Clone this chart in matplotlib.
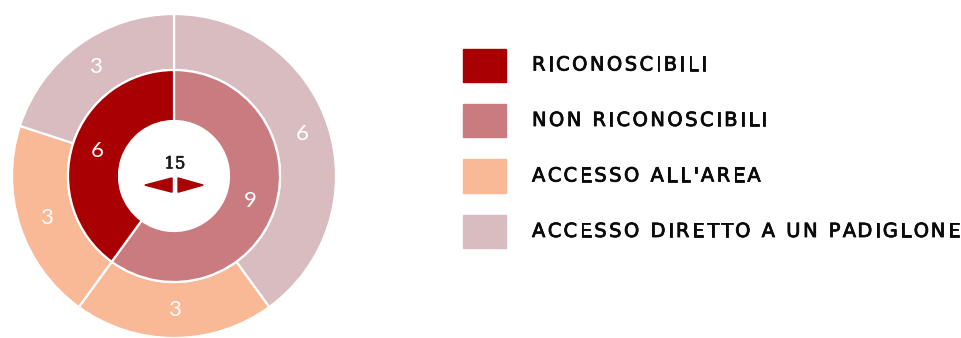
import matplotlib
matplotlib.use("Agg")
import matplotlib.pyplot as plt
import matplotlib.patheffects as pe
from matplotlib.patches import Rectangle, Polygon

# ── DATA ─────────────────────────────────────────────────────────────────────
total = 15
inner_labels = ["NON RICONOSCIBILI", "RICONOSCIBILI"]
inner_values = [9, 6]
outer_labels = ["ACCESSO DIRETTO A UN PADIGLONE", "ACCESSO ALL'AREA",
                "ACCESSO ALL'AREA", "ACCESSO DIRETTO A UN PADIGLONE"]
outer_values = [6, 3, 3, 3]
legend_labels = ["RICONOSCIBILI", "NON RICONOSCIBILI",
                 "ACCESSO ALL'AREA", "ACCESSO DIRETTO A UN PADIGLONE"]

# ── COLOURS ──────────────────────────────────────────────────────────────────
col = {
    "RICONOSCIBILI": "#a80003",
    "NON RICONOSCIBILI": "#c97b80",
    "ACCESSO ALL'AREA": "#f9b896",
    "ACCESSO DIRETTO A UN PADIGLONE": "#d9bcbf",
}

W, H = 962, 338
fig = plt.figure(figsize=(W / 100, H / 100), dpi=100)

# pie axes: centre at (174, 176) px, radius 162 px
R = 162
cx, cy = 174, 176
side = 2.1 * R
ax = fig.add_axes([(cx - side / 2) / W, 1 - (cy + side / 2) / H, side / W, side / H])
ax.set_aspect("equal")
ax.axis("off")

r_mid = 106 / R
r_hole = 55 / R
wp = dict(edgecolor="white", linewidth=1.6)
txt = dict(color="white", fontsize=16, family="Lato")

w_out, t_out = ax.pie(outer_values, radius=1.0, startangle=90, counterclock=False,
                      colors=[col[l] for l in outer_labels],
                      labels=[str(v) for v in outer_values], labeldistance=0.83,
                      wedgeprops=dict(width=1 - r_mid, **wp), textprops=txt)
w_in, t_in = ax.pie(inner_values, radius=r_mid, startangle=90, counterclock=False,
                    colors=[col[l] for l in inner_labels],
                    labels=[str(v) for v in inner_values], labeldistance=0.76,
                    wedgeprops=dict(width=r_mid - r_hole, **wp), textprops=txt)
for t in t_out + t_in:
    t.set_ha("center")
    t.set_va("center")
ax.set_xlim(-1.05, 1.05)
ax.set_ylim(-1.05, 1.05)

# centre total and little arrows
ax.text(0.005, 0.075, str(total), ha="center", va="center", fontsize=12,
        family="DejaVu Serif", color="#1a1a1a",
        path_effects=[pe.withStroke(linewidth=0.5, foreground="#1a1a1a")])
ax.add_patch(Polygon([(-0.18, -0.056), (-0.012, -0.012), (-0.012, -0.10)],
                     closed=True, color=col["RICONOSCIBILI"]))
ax.add_patch(Polygon([(0.18, -0.056), (0.025, -0.012), (0.025, -0.10)],
                     closed=True, color=col["RICONOSCIBILI"]))

# ── LEGEND ───────────────────────────────────────────────────────────────────
renderer = fig.canvas.get_renderer()
font = dict(fontsize=14, family="DejaVu Sans", color="#0a0a0a",
            path_effects=[pe.withStroke(linewidth=0.6, foreground="#0a0a0a")])


def text_width(s):
    t = fig.text(0, 0, s, **font)
    w = t.get_window_extent(renderer).width
    t.remove()
    return w


# letter spacing chosen so the longest label spans ~428 px as in the reference
longest = max(legend_labels, key=len)
tracking = (428 - text_width(longest)) / (len(longest) - 1)


def spaced_text(x_px, y_px, s):
    ref = text_width("|")
    for k, ch in enumerate(s):
        if ch == " ":
            continue
        adv = text_width(s[:k] + "|") - ref if k else 0
        fig.text((x_px + adv + k * tracking) / W, 1 - y_px / H, ch,
                 ha="left", va="center", **font)


for i, lab in enumerate(legend_labels):
    yc = 65 + i * 55.5
    fig.patches.append(Rectangle((463 / W, 1 - (yc + 16.5) / H), 43 / W, 33 / H,
                                 transform=fig.transFigure, color=col[lab]))
    spaced_text(532, yc, lab)

fig.savefig("out.png", dpi=100)
